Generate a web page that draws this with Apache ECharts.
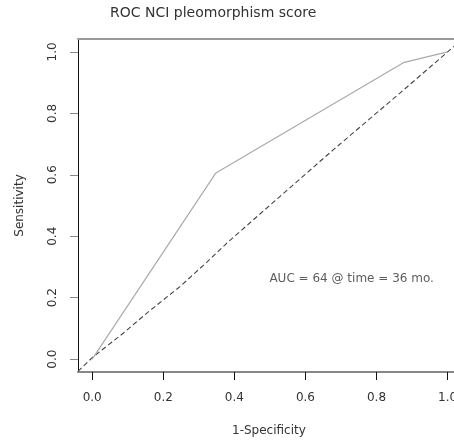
<!DOCTYPE html>
<html>
<head>
<meta charset="utf-8">
<script src="https://cdn.jsdelivr.net/npm/echarts@6/dist/echarts.min.js"></script>
<style>
html,body{margin:0;padding:0;background:#fff;}
#chart{width:454px;height:441px;}
</style>
</head>
<body>
<div id="chart"></div>
<script>
// ROC curve (solid)
const rocFpr = [0, 0.348, 0.878, 1.0];
const rocTpr = [0, 0.606, 0.966, 1.0];
// reference diagonal (dashed)
const refX = [-0.04, 0, 0.087, 0.153, 0.247, 0.322, 0.383, 0.528, 0.678, 0.866, 1.0, 1.04];
const refY = [-0.04, 0.005, 0.084, 0.149, 0.236, 0.315, 0.382, 0.529, 0.681, 0.866, 1.0, 1.04];
// tick labels
const xTicks = [0, 0.2, 0.4, 0.6, 0.8, 1.0];
const yTicks = [0, 0.2, 0.4, 0.6, 0.8, 1.0];
// annotation and titles
const aucText = 'AUC = 64 @ time = 36 mo.';
const aucPos = [0.73, 0.262];
const titleText = 'ROC NCI pleomorphism score';
const xTitle = '1-Specificity';
const yTitle = 'Sensitivity';

const FONT = 'DejaVu Sans';
const chart = echarts.init(document.getElementById('chart'), null, {renderer: 'canvas'});
chart.setOption({
  backgroundColor: '#ffffff',
  animation: false,
  textStyle: {fontFamily: FONT},
  title: {
    text: titleText,
    left: 110, top: 6, padding: 0,
    textStyle: {fontFamily: FONT, fontSize: 14, fontWeight: 'normal', color: '#333'}
  },
  grid: {left: 78, top: 39, right: 0, bottom: 69, containLabel: false, outerBoundsMode: 'none'},
  xAxis: [{
    type: 'value', min: -0.04, max: 1.018, position: 'bottom',
    axisLine: {show: true, onZero: false, lineStyle: {color: '#888', width: 2}},
    axisTick: {show: true, inside: false, length: 8, customValues: xTicks, lineStyle: {color: '#111', width: 1}},
    axisLabel: {show: true, customValues: xTicks, margin: 20, fontFamily: FONT, fontSize: 12, color: '#333',
      formatter: v => v.toFixed(1)},
    splitLine: {show: false}
  }, {
    type: 'value', min: -0.04, max: 1.018, position: 'top',
    axisLine: {show: true, onZero: false, lineStyle: {color: '#999', width: 2}},
    axisTick: {show: false}, axisLabel: {show: false}, splitLine: {show: false}
  }],
  yAxis: {
    type: 'value', min: -0.042, max: 1.042, position: 'left',
    name: yTitle, nameLocation: 'middle', nameGap: 52,
    nameTextStyle: {fontFamily: FONT, fontSize: 12, color: '#333'},
    axisLine: {show: true, onZero: false, lineStyle: {color: '#111', width: 1}},
    axisTick: {show: true, inside: false, length: 8, customValues: yTicks, lineStyle: {color: '#888', width: 1}},
    axisLabel: {show: true, customValues: yTicks, rotate: 90, margin: 19, fontFamily: FONT, fontSize: 12, color: '#333',
      formatter: v => v.toFixed(1)},
    splitLine: {show: false}
  },
  // x-axis title centred under the full (uncropped) plot box, as in the reference
  graphic: [{
    type: 'text', left: 232, top: 425,
    style: {text: xTitle, font: '12px "DejaVu Sans"', fill: '#333'}
  }],
  series: [{
    type: 'line', xAxisIndex: 0,
    data: refX.map((x, i) => [x, refY[i]]),
    showSymbol: false, symbol: 'none', clip: true,
    lineStyle: {color: '#444', width: 1.1, type: [5, 3]}
  }, {
    type: 'line', xAxisIndex: 0,
    data: rocFpr.map((x, i) => [x, rocTpr[i]]),
    showSymbol: false, symbol: 'none', clip: true,
    lineStyle: {color: '#aaa', width: 1.2}
  }, {
    type: 'scatter', xAxisIndex: 0,
    data: [aucPos], symbolSize: 0, silent: true,
    label: {show: true, position: 'inside', formatter: aucText, fontFamily: FONT, fontSize: 12, color: '#333'}
  }]
});
</script>
</body>
</html>
